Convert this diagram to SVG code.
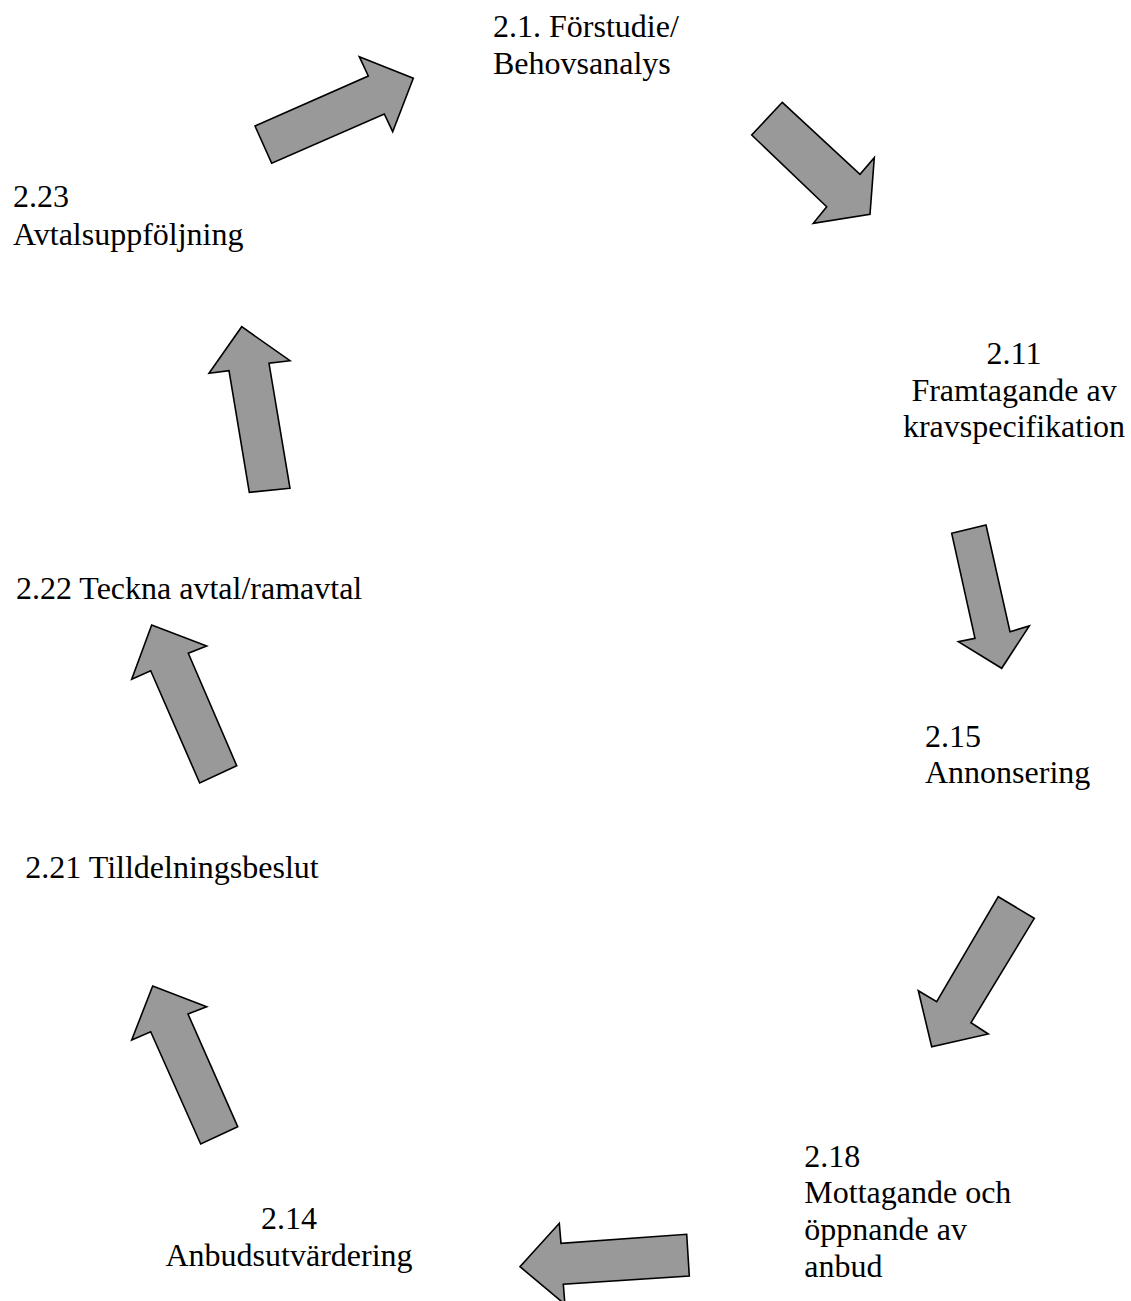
<svg xmlns="http://www.w3.org/2000/svg" width="1131" height="1301" viewBox="0 0 1131 1301">
<style>
.t{font-family:"Liberation Serif","Times New Roman",serif;font-size:32px;fill:#000}
.c{text-anchor:middle}
.a{fill:#999999;stroke:#000;stroke-width:1.6;stroke-linejoin:miter}
</style>
<rect width="1131" height="1301" fill="#fff"/>
<g id="connectors">
<polygon class="a" points="255,126 368.3,76 359.3,56.7 413.3,78.3 392.7,131.7 384.3,114 271.7,163.3"/>
<polygon class="a" points="782.3,102.3 860,174.3 874.3,157.7 870,214.3 813.3,223.3 826.7,206.7 751.7,135"/>
<polygon class="a" points="951.7,533.3 986,525 1010,631.7 1029.3,626 1001.7,668.3 958.3,641.7 975,638.3"/>
<polygon class="a" points="998.3,896.7 1034.3,918.3 971,1022.7 988.3,1034 931.7,1046.7 918.3,990.7 936.7,1001.7"/>
<polygon class="a" points="686.7,1234.3 689.3,1276 563.3,1284.3 564.9,1304.3 520,1266.7 559.3,1223.3 561,1243.3"/>
<polygon class="a" points="237.7,1126.7 200.7,1144 150.7,1031.7 131.7,1040 152.7,986 206.7,1006.7 188,1014"/>
<polygon class="a" points="236.7,765.7 199.7,783 150.7,670.7 131.7,679.3 151.7,625 206.7,646 188.3,653.3"/>
<polygon class="a" points="290,488.3 249.3,492.3 229,370.7 209,373.3 241.7,326.7 290,360.7 269,363.3"/>
</g>
<g id="n21"><text class="t" x="493" y="37.3">2.1. Förstudie/</text><text class="t" x="493" y="74">Behovsanalys</text></g>
<g id="n211"><text class="t c" x="1014" y="364">2.11</text><text class="t c" x="1014" y="400.7">Framtagande av</text><text class="t c" x="1014" y="437.4">kravspecifikation</text></g>
<g id="n215"><text class="t" x="925" y="746.5">2.15</text><text class="t" x="925" y="783">Annonsering</text></g>
<g id="n218"><text class="t" x="804.3" y="1166.7">2.18</text><text class="t" x="804.3" y="1203.3">Mottagande och</text><text class="t" x="804.3" y="1240">öppnande av</text><text class="t" x="804.3" y="1276.7">anbud</text></g>
<g id="n214"><text class="t c" x="289" y="1229">2.14</text><text class="t c" x="289" y="1266">Anbudsutvärdering</text></g>
<g id="n2121"><text class="t" x="25.3" y="878">2.21 Tilldelningsbeslut</text></g>
<g id="n222"><text class="t" x="15.9" y="598.5">2.22 Teckna avtal/ramavtal</text></g>
<g id="n223"><text class="t" x="13" y="207.4">2.23</text><text class="t" x="13" y="244.5">Avtalsuppföljning</text></g>
</svg>
